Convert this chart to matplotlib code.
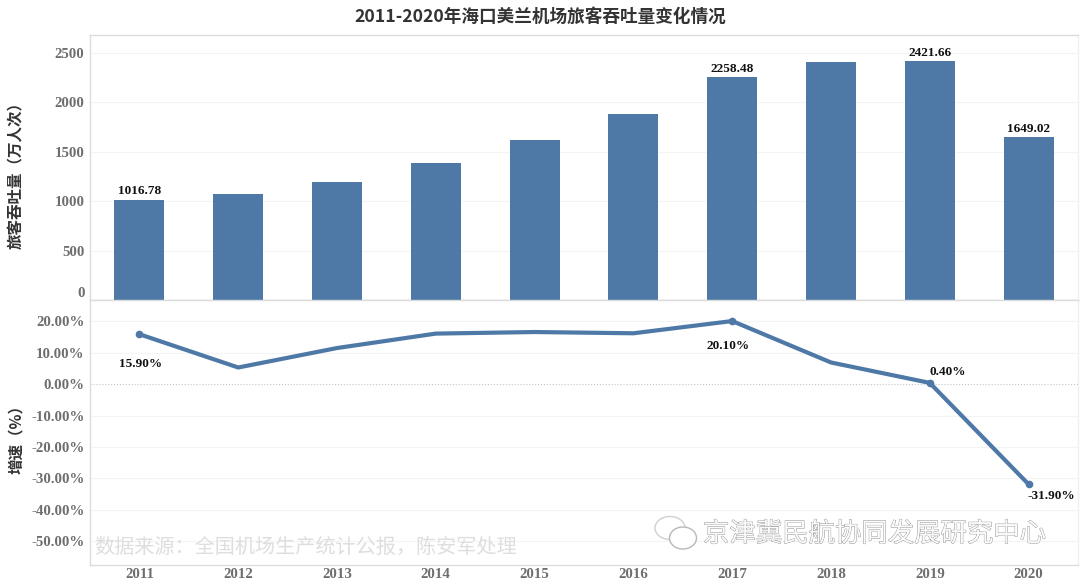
import matplotlib
matplotlib.use('Agg')

import matplotlib.pyplot as plt
import matplotlib.patheffects as pe
from matplotlib.patches import Ellipse

CJK = ['Noto Sans CJK SC', 'DejaVu Sans']
SERIF = ['Liberation Serif', 'DejaVu Serif']

# 数据
years = ['2011', '2012', '2013', '2014', '2015', '2016', '2017', '2018', '2019', '2020']
throughput = [1016.78, 1070, 1193, 1384, 1617, 1880, 2258.48, 2412, 2421.66, 1649.02]
growth = [15.9, 5.3, 11.5, 16.1, 16.6, 16.2, 20.1, 6.9, 0.4, -31.9]

bar_labels = {0: '1016.78', 6: '2258.48', 8: '2421.66', 9: '1649.02'}
line_labels = {0: ('15.90%', 1, -30), 6: ('20.10%', -4, -25),
               8: ('0.40%', 18, 11), 9: ('-31.90%', 23, -12)}
bar_ticks = [0, 500, 1000, 1500, 2000, 2500]
growth_ticks = [20, 10, 0, -10, -20, -30, -40, -50]

BLUE = '#4e79a7'
GRID = '#f4f4f4'
EDGE = '#dcdcdc'
TICK = '#6e6e6e'

W, H = 1080, 581
fig = plt.figure(figsize=(W / 100, H / 100), dpi=100, facecolor='white')
x = list(range(len(years)))
left, right = 90 / W, 1078 / W

ax_bar = fig.add_axes([left, 1 - 300 / H, right - left, 265 / H])
ax_line = fig.add_axes([left, 1 - 565 / H, right - left, 265 / H])

# --- 上: 吞吐量柱状图 ---
ax_bar.bar(x, throughput, width=0.505, color=BLUE, zorder=3)
ax_bar.set_ylim(0, 2682)
ax_bar.set_yticks(bar_ticks)
ax_bar.set_xticks([])
for i, s in bar_labels.items():
    ax_bar.annotate(s, (i, throughput[i]), xytext=(0, 1.5), textcoords='offset points',
                    ha='center', va='bottom', fontsize=9.5, fontweight='bold',
                    family=SERIF, color='#111111')

# --- 下: 增速折线图 ---
ax_line.plot(x, growth, color=BLUE, linewidth=3, zorder=3)
ax_line.plot([x[i] for i in line_labels], [growth[i] for i in line_labels], 'o',
             color=BLUE, markersize=4.5, zorder=4)
ax_line.set_ylim(-57.6, 26.8)
ax_line.set_yticks(growth_ticks)
ax_line.set_yticklabels([f'{t:.2f}%' for t in growth_ticks])
ax_line.set_xticks(x)
ax_line.set_xticklabels(years)
for i, (s, dx, dy) in line_labels.items():
    ax_line.annotate(s, (i, growth[i]), xytext=(dx, dy), textcoords='offset pixels',
                     ha='center', va='center', fontsize=9.5, fontweight='bold',
                     family=SERIF, color='#111111', zorder=5)

for ax in (ax_bar, ax_line):
    ax.set_xlim(-0.5, 9.5)
    ax.grid(axis='y', color=GRID, linewidth=0.8, zorder=0)
    ax.set_axisbelow(True)
    ax.tick_params(axis='y', length=0, pad=4)
    ax.tick_params(axis='x', length=0, pad=2)
    for lab in ax.get_xticklabels() + ax.get_yticklabels():
        lab.set_family(SERIF)
        lab.set_fontweight('bold')
        lab.set_fontsize(10.7)
        lab.set_color(TICK)
    for side in ('top', 'bottom', 'left', 'right'):
        ax.spines[side].set_color(EDGE)
        ax.spines[side].set_linewidth(1.0)
    ax.spines['right'].set_color('#f0f0f0')

# 0 的标签在 Tableau 里被上移
ax_bar.get_yticklabels()[0].set_verticalalignment('bottom')

# 0 线用虚点
for line, t in zip(ax_line.get_ygridlines(), growth_ticks):
    if t == 0:
        line.set_linestyle(':')
        line.set_color('#c4c4c4')

# 标题和轴标题
fig.text(540 / W, 1 - 17 / H, '2011-2020年海口美兰机场旅客吞吐量变化情况', ha='center', va='center',
         fontsize=12.7, fontweight='bold', family=CJK, color='#333333')
fig.text(16 / W, 1 - 171 / H, '旅客吞吐量（万人次）', rotation=90, ha='center', va='center',
         fontsize=11.2, fontweight='bold', family=CJK, color='#333333')
fig.text(16 / W, 1 - 435 / H, '增速（%）', rotation=90, ha='center', va='center',
         fontsize=11.2, fontweight='bold', family=CJK, color='#333333')

# 水印
fig.text(94 / W, 1 - 547 / H, '数据来源：全国机场生产统计公报，陈安军处理', ha='left', va='center',
         fontsize=14.5, family=CJK, color='#dedede', zorder=6)
fig.text(703 / W, 1 - 534 / H, '京津冀民航协同发展研究中心', ha='left', va='center',
         fontsize=19, family=CJK, color='#fbfbfb', zorder=6,
         path_effects=[pe.withStroke(linewidth=0.6, foreground='#8f8f8f')])

# 微信图标
overlay = fig.add_axes([0, 0, 1, 1], facecolor='none', zorder=7)
overlay.set_xlim(0, W)
overlay.set_ylim(H, 0)
overlay.axis('off')
overlay.add_patch(Ellipse((670, 528), 30, 23, fill=False, edgecolor='#d0d0d0', linewidth=1))
overlay.add_patch(Ellipse((683, 538), 27, 22, facecolor='white', edgecolor='#b8b8b8', linewidth=1))

fig.savefig('out.png', dpi=100)
